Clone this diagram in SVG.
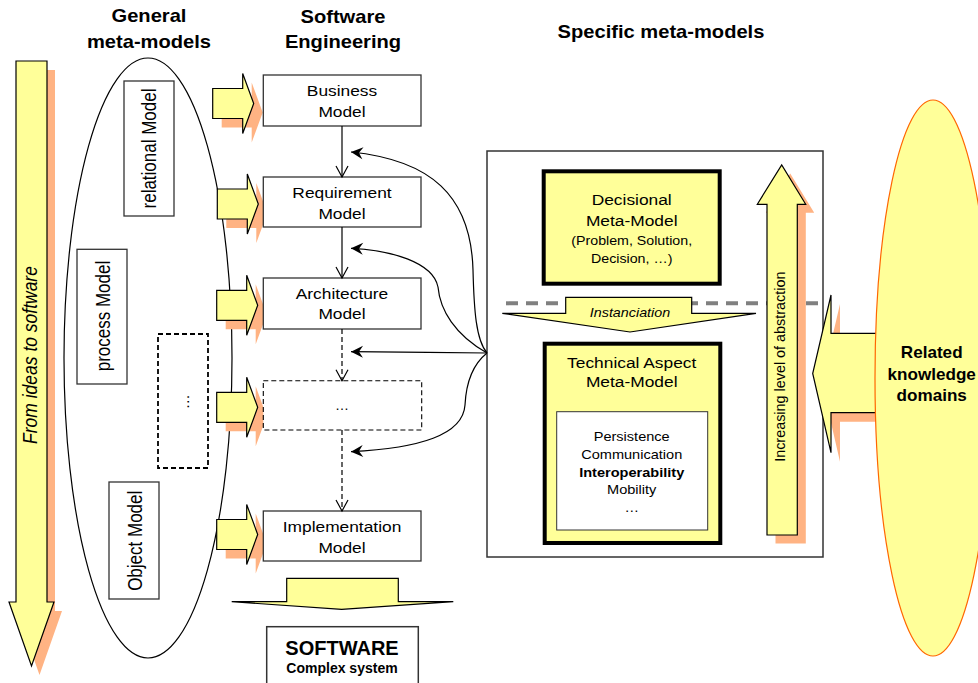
<svg xmlns="http://www.w3.org/2000/svg" width="978" height="683" viewBox="0 0 978 683">
<style>
text{font-family:"Liberation Sans",Arial,Helvetica,sans-serif;fill:#000}
.h{font-size:17.5px;font-weight:bold;text-anchor:middle}
.m{font-size:15.5px;text-anchor:middle}
.v{font-size:17px;text-anchor:middle}
.s{font-size:13px;text-anchor:middle}
.box{fill:#fff;stroke:#333;stroke-width:1.3}
.dbox{fill:#fff;stroke:#000;stroke-width:1.1;stroke-dasharray:5 3}
.dbox2{fill:#fff;stroke:#000;stroke-width:1.8;stroke-dasharray:5 3}
.ya{fill:#ffff99;stroke:#000;stroke-width:1.2}
.sh{fill:#ffb383;stroke:none}
.thick{fill:#ffff99;stroke:#000;stroke-width:4}
.con{fill:none;stroke:#000;stroke-width:1.2}
.dcon{fill:none;stroke:#000;stroke-width:1.2;stroke-dasharray:5 3}
</style>
<defs>
  <!-- small right-pointing block arrow, origin at left end of body, centred vertically -->
  <path id="ra" d="M0,-15H30V-30L41,0L30,30V15H0Z"/>
  <marker id="open" viewBox="-14 -8 16 16" refX="0" refY="0" markerWidth="16" markerHeight="16" markerUnits="userSpaceOnUse" orient="auto">
    <path d="M-11,-6L0,0L-11,6" fill="none" stroke="#000" stroke-width="1.2"/>
  </marker>
  <marker id="solid" viewBox="-14 -8 16 16" refX="0" refY="0" markerWidth="16" markerHeight="16" markerUnits="userSpaceOnUse" orient="auto">
    <path d="M0,0L-12,-6L-8,0L-12,6Z" fill="#000"/>
  </marker>
</defs>
<rect width="978" height="683" fill="#fff"/>

<!-- headers -->
<g id="headers">
  <text class="h" transform="translate(149 22.3) scale(1.15 1)">General</text>
  <text class="h" transform="translate(149 48.3) scale(1.15 1)">meta-models</text>
  <text class="h" transform="translate(343 22.5) scale(1.15 1)">Software</text>
  <text class="h" transform="translate(343 48) scale(1.15 1)">Engineering</text>
  <text class="h" transform="translate(661 37.5) scale(1.15 1)">Specific meta-models</text>
</g>

<!-- timeline arrow -->
<g id="ideas-to-software">
  <path class="sh" transform="translate(8 9)" d="M16,61H47V602H54L31.5,666L9,602H16Z"/>
  <path class="ya" d="M16,61H47V602H54L31.5,666L9,602H16Z"/>
  <text transform="translate(37 355) scale(1.15 1) rotate(-90)" style="font-size:17.5px;font-style:italic;text-anchor:middle">From ideas to software</text>
</g>

<!-- general meta-models -->
<g id="general-meta-models">
  <ellipse cx="148" cy="358" rx="84" ry="300" fill="none" stroke="#000" stroke-width="1.2"/>
</g>
<g id="relational-model">
  <rect class="box" x="124" y="81" width="50" height="135"/>
  <text class="v" transform="translate(156 148.5) scale(1.2 1) rotate(-90)">relational Model</text>
</g>
<g id="process-model">
  <rect class="box" x="77" y="249.3" width="50" height="134.7"/>
  <text class="v" transform="translate(110 316) scale(1.2 1) rotate(-90)">process Model</text>
</g>
<g id="other-models">
  <rect class="dbox2" x="158" y="334" width="50" height="134"/>
  <text transform="translate(189 401.7) rotate(-90)" style="font-size:15px;text-anchor:middle">…</text>
</g>
<g id="object-model">
  <rect class="box" x="109" y="482" width="50" height="117"/>
  <text class="v" transform="translate(141.5 540.8) scale(1.2 1) rotate(-90)">Object Model</text>
</g>

<!-- feed arrows into the engineering chain -->
<g id="feed-arrows">
  <use href="#ra" class="sh" transform="translate(221.7 112.5)"/>
  <use href="#ra" class="ya" transform="translate(212.7 103.5)"/>
  <use href="#ra" class="sh" transform="translate(226.3 213)"/>
  <use href="#ra" class="ya" transform="translate(217.3 204)"/>
  <use href="#ra" class="sh" transform="translate(225.7 314.3)"/>
  <use href="#ra" class="ya" transform="translate(216.7 305.3)"/>
  <use href="#ra" class="sh" transform="translate(225.7 416.3)"/>
  <use href="#ra" class="ya" transform="translate(216.7 407.3)"/>
  <use href="#ra" class="sh" transform="translate(225.7 543.5)"/>
  <use href="#ra" class="ya" transform="translate(216.7 534.5)"/>
</g>

<!-- software engineering chain -->
<g id="business-model">
  <rect class="box" x="263.3" y="75" width="157.7" height="51"/>
  <text class="m" transform="translate(342 96) scale(1.12 1)">Business</text>
  <text class="m" transform="translate(342 116.7) scale(1.12 1)">Model</text>
</g>
<g id="requirement-model">
  <rect class="box" x="263.3" y="177" width="157.7" height="50"/>
  <text class="m" transform="translate(342 198) scale(1.12 1)">Requirement</text>
  <text class="m" transform="translate(342 218.7) scale(1.12 1)">Model</text>
</g>
<g id="architecture-model">
  <rect class="box" x="263.3" y="278" width="157.7" height="51"/>
  <text class="m" transform="translate(342 299.3) scale(1.12 1)">Architecture</text>
  <text class="m" transform="translate(342 319.3) scale(1.12 1)">Model</text>
</g>
<g id="intermediate-model">
  <rect class="dbox" x="263.3" y="380.7" width="158.4" height="49.3"/>
  <text style="font-size:14px;text-anchor:middle" x="342" y="410">…</text>
</g>
<g id="implementation-model">
  <rect class="box" x="263.3" y="511" width="157.7" height="50"/>
  <text class="m" transform="translate(342 531.7) scale(1.12 1)">Implementation</text>
  <text class="m" transform="translate(342 552.7) scale(1.12 1)">Model</text>
</g>
<g id="output-arrow">
  <path class="ya" d="M286.7,578.3H398.3V601.7H453.3L341.7,609.3L231.7,601.7H286.7Z"/>
</g>
<g id="software">
  <rect class="box" x="266.7" y="626.7" width="151.6" height="70" style="stroke-width:1.5"/>
  <text x="342" y="655" style="font-size:20px;font-weight:bold;text-anchor:middle">SOFTWARE</text>
  <text x="342" y="673.3" style="font-size:14px;font-weight:bold;text-anchor:middle">Complex system</text>
</g>

<!-- specific meta-models -->
<g id="specific-meta-models">
  <rect x="487" y="151" width="336" height="406" fill="#fff" stroke="#333" stroke-width="1.5"/>
  <line x1="506" y1="303.3" x2="820" y2="303.3" stroke="#808080" stroke-width="4" stroke-dasharray="12 8"/>
</g>
<g id="decisional-meta-model">
  <rect class="thick" x="543.7" y="171.3" width="176" height="112.4"/>
  <text class="m" transform="translate(631.7 205) scale(1.12 1)">Decisional</text>
  <text class="m" transform="translate(631.7 226) scale(1.12 1)">Meta-Model</text>
  <text transform="translate(631.7 245) scale(1.12 1)" style="font-size:12.7px;text-anchor:middle">(Problem, Solution,</text>
  <text transform="translate(631.7 262.7) scale(1.12 1)" style="font-size:12.7px;text-anchor:middle">Decision, …)</text>
</g>
<g id="instanciation">
  <path class="ya" d="M565.7,297.3H691.7V313.3H756L630,332L502.3,313.3H565.7Z"/>
  <text transform="translate(630 316.7) scale(1.12 1)" style="font-size:12.8px;font-style:italic;text-anchor:middle">Instanciation</text>
</g>
<g id="technical-aspect-meta-model">
  <rect class="thick" x="544.7" y="343.7" width="175.6" height="199.3"/>
  <text class="m" transform="translate(631.7 368.3) scale(1.12 1)">Technical Aspect</text>
  <text class="m" transform="translate(631.7 387.3) scale(1.12 1)">Meta-Model</text>
  <rect x="556.7" y="411.7" width="151" height="118.3" fill="#fff" stroke="#333" stroke-width="1"/>
  <text class="s" transform="translate(631.7 440.7) scale(1.12 1)">Persistence</text>
  <text class="s" transform="translate(631.7 459) scale(1.12 1)">Communication</text>
  <text class="s" transform="translate(631.7 476.7) scale(1.12 1)" style="font-weight:bold">Interoperability</text>
  <text class="s" transform="translate(631.7 494) scale(1.12 1)">Mobility</text>
  <text class="s" transform="translate(631.7 511.7) scale(1.12 1)">…</text>
</g>
<g id="abstraction-arrow">
  <path class="sh" transform="translate(8.5 8.5)" d="M767,535V204.3H757.3L781.7,165L805.7,204.3H797.3V535Z"/>
  <path class="ya" d="M767,535V204.3H757.3L781.7,165L805.7,204.3H797.3V535Z"/>
  <text transform="translate(785 366.7) scale(1.05 1) rotate(-90)" style="font-size:14.4px;text-anchor:middle">Increasing level of abstraction</text>
</g>

<!-- related knowledge domains -->
<g id="knowledge-arrow">
  <path class="sh" transform="translate(9 9)" d="M905,333.3H831V295L812.7,373.5L831,452.7V412.7H905Z"/>
  <path class="ya" d="M905,333.3H831V295L812.7,373.5L831,452.7V412.7H905Z"/>
</g>
<g id="related-knowledge-domains">
  <ellipse cx="933" cy="378" rx="58" ry="278" fill="#ffff99" stroke="#ff6600" stroke-width="1.2"/>
  <text transform="translate(931.7 358.3) scale(1.07 1)" style="font-size:16px;font-weight:bold;text-anchor:middle">Related</text>
  <text transform="translate(931.7 380) scale(1.07 1)" style="font-size:16px;font-weight:bold;text-anchor:middle">knowledge</text>
  <text transform="translate(931.7 400.5) scale(1.07 1)" style="font-size:16px;font-weight:bold;text-anchor:middle">domains</text>
</g>

<!-- connectors -->
<g id="connectors">
  <line class="con" x1="342" y1="126" x2="342" y2="177" marker-end="url(#open)"/>
  <line class="con" x1="342" y1="227" x2="342" y2="278" marker-end="url(#open)"/>
  <line class="dcon" x1="342" y1="329" x2="342" y2="380.7" marker-end="url(#open)"/>
  <line class="dcon" x1="342" y1="430" x2="342" y2="511" marker-end="url(#open)"/>
  <path class="con" d="M487,353C476,340 474,310 473,270C471,195 430,160 351,152" marker-end="url(#solid)"/>
  <path class="con" d="M487,353C455,335 440,310 438,287C433,262 390,250 351,248.3" marker-end="url(#solid)"/>
  <path class="con" d="M487,353C440,352.5 400,352 351,351.7" marker-end="url(#solid)"/>
  <path class="con" d="M487,353C472,365 466,385 465,405C463,435 420,448 351,451.7" marker-end="url(#solid)"/>
</g>
</svg>
